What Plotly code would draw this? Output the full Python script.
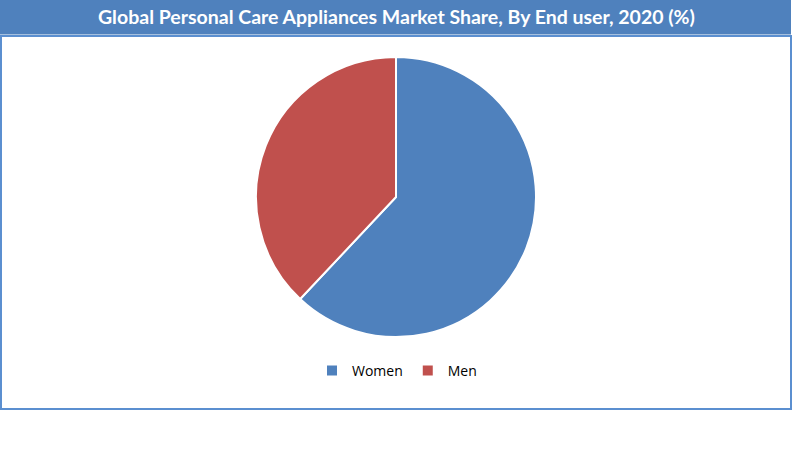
import plotly.graph_objects as go

labels = ["Women", "Men"]
values = [62, 38]
colors = ["#4f81bd", "#c0504d"]
title = "Global Personal Care Appliances Market Share, By End user, 2020 (%)"

W, H = 800, 455

def px(x):
    return x / W

def py(y):
    return 1 - y / H

fig = go.Figure(go.Pie(
    labels=labels, values=values,
    marker=dict(colors=colors, line=dict(color="white", width=2)),
    sort=False, direction="clockwise", rotation=0,
    textinfo="none", hoverinfo="label+percent",
    domain=dict(x=[px(256), px(536)], y=[py(337), py(57)]),
))

fig.update_layout(
    width=W, height=H,
    margin=dict(l=0, r=0, t=0, b=0),
    paper_bgcolor="white",
    showlegend=True,
    legend=dict(orientation="h", x=px(397), xanchor="center", y=py(371), yanchor="middle",
                font=dict(family="Open Sans", size=14, color="#000000"),
                itemwidth=30, tracegroupgap=0),
    shapes=[
        dict(type="rect", xref="paper", yref="paper",
             x0=px(1), x1=px(791), y0=py(409), y1=py(36),
             line=dict(color="#5b8fd0", width=2), fillcolor="rgba(0,0,0,0)", layer="below"),
        dict(type="rect", xref="paper", yref="paper",
             x0=0, x1=px(791), y0=py(34.5), y1=1,
             line=dict(width=0), fillcolor="#4f81bd", layer="below"),
    ],
    annotations=[
        dict(text="<b>" + title + "</b>", xref="paper", yref="paper",
             x=px(396), y=py(17), xanchor="center", yanchor="middle",
             showarrow=False, font=dict(family="Lato", size=19.5, color="white")),
    ],
)

fig.write_html("out.html", config={"displayModeBar": False},
               post_script="document.body.style.margin='0';document.body.style.overflow='hidden';")
